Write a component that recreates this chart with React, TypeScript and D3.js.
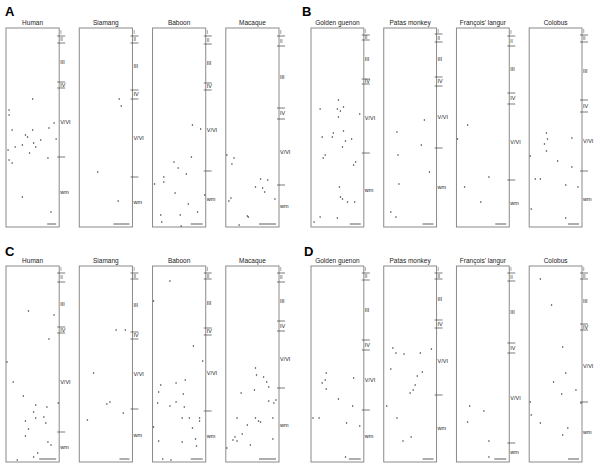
import React, { useEffect, useRef } from "react";
import * as d3 from "d3";

const W = 600;
const H = 469;

// species per row
const speciesLeft = ["Human", "Siamang", "Baboon", "Macaque"];
const speciesRight = ["Golden guenon", "Patas monkey", "François' langur", "Colobus"];
const layerNames = ["I", "II", "III", "IV", "V/VI", "wm"];

// layer boundaries (I/II, II/III, III/IV, IV/V, VI/wm), depth units from pial surface
const layersA = [[8, 15, 54, 60, 129], [8, 15, 62, 71, 149], [8, 16, 55, 62, 143], [8, 18, 80, 91, 157]];
const layersB = [[7, 12, 51, 56, 125], [6, 14, 49, 58, 120], [8, 18, 65, 76, 152], [7, 14, 72, 84, 143]];
const layersC = [[7, 16, 61, 67, 166], [7, 13, 66, 73, 143], [7, 13, 62, 69, 145], [7, 16, 55, 65, 122]];
const layersD = [[7, 14, 74, 84, 144], [7, 13, 54, 62, 129], [7, 15, 77, 87, 177], [7, 13, 58, 64, 136]];

// scale bar lengths (width units)
const barsA = [9, 16, 12, 17];
const barsB = [11, 11, 11, 11];
const barsC = [17, 10, 12, 17];
const barsD = [12, 11, 12, 11];

// labelled cells [x, depth]
const cellsA = [
  [[26, 71], [3, 82], [3, 87], [6, 102], [26, 102], [19, 107], [21, 109], [34, 112], [42, 100], [47, 95], [49, 111], [9, 119], [2, 122], [16, 117], [27, 115], [29, 119], [23, 125], [41, 130], [6, 135], [3, 132], [16, 169], [44, 184]],
  [[39, 71], [41, 78], [18, 144], [38, 173]],
  [[39, 97], [47, 101], [38, 129], [21, 134], [25, 140], [33, 146], [11, 149], [11, 154], [2, 156], [22, 165], [51, 167], [35, 176], [44, 184], [27, 187], [8, 187], [9, 194], [28, 198]],
  [[1, 127], [8, 130], [6, 136], [34, 151], [41, 152], [29, 159], [36, 160], [38, 164], [48, 171], [5, 170], [3, 173], [21, 188], [22, 189], [13, 197]],
];
const cellsB = [
  [[27, 72], [32, 79], [9, 81], [26, 81], [29, 83], [27, 89], [48, 86], [32, 103], [22, 105], [21, 109], [11, 109], [34, 113], [40, 111], [31, 119], [14, 127], [12, 130], [44, 134], [42, 137], [28, 159], [29, 169], [31, 171], [36, 174], [43, 174], [9, 189], [3, 194], [26, 190]],
  [[40, 92], [13, 104], [37, 117], [14, 127], [45, 144], [15, 156], [7, 184], [12, 189]],
  [[11, 97], [1, 111], [32, 149], [8, 159], [24, 174]],
  [[17, 105], [18, 111], [15, 116], [17, 123], [42, 110], [1, 128], [28, 133], [42, 139], [6, 151], [11, 151], [36, 157], [48, 159], [2, 181], [36, 190]],
];
const cellsC = [
  [[22, 45], [47, 49], [42, 73], [1, 96], [7, 116], [17, 130], [51, 137], [29, 139], [40, 141], [27, 146], [19, 155], [29, 152], [37, 151], [39, 157], [22, 163], [19, 170], [41, 176], [44, 179], [31, 187], [27, 191], [11, 194]],
  [[36, 64], [45, 64], [14, 107], [27, 138], [30, 136], [43, 147], [8, 154]],
  [[17, 15], [1, 35], [40, 80], [49, 95], [8, 119], [23, 117], [32, 114], [6, 126], [30, 128], [5, 137], [17, 140], [23, 136], [31, 141], [29, 152], [36, 152], [46, 152], [46, 155], [39, 162], [1, 161], [6, 175], [29, 176], [42, 173], [43, 180], [10, 193], [18, 194]],
  [[29, 102], [30, 109], [37, 111], [40, 116], [28, 124], [15, 127], [42, 121], [49, 134], [42, 135], [47, 137], [11, 152], [29, 152], [32, 155], [34, 156], [46, 152], [21, 159], [16, 168], [9, 171], [7, 174], [11, 175], [46, 173], [24, 179], [1, 182]],
];
const cellsD = [
  [[15, 107], [14, 114], [11, 117], [15, 123], [42, 112], [27, 133], [41, 140], [2, 152], [8, 152], [35, 157], [48, 160], [34, 191]],
  [[9, 82], [12, 87], [20, 88], [36, 87], [47, 83], [7, 103], [38, 106], [33, 110], [31, 119], [29, 124], [26, 127], [3, 140], [13, 152], [27, 171], [19, 175]],
  [[13, 140], [27, 145], [11, 156], [32, 175], [32, 191]],
  [[11, 13], [22, 39], [33, 81], [36, 107], [24, 116], [46, 124], [32, 128], [1, 136], [51, 137], [2, 149], [11, 157], [38, 162], [33, 169]],
];

const panels = [
  { letter: "A", species: speciesLeft, layers: layersA, bars: barsA, cells: cellsA, x0: 6, x1: 279, top: 28, bottom: 227, lx: 5, ly: 16 },
  { letter: "B", species: speciesRight, layers: layersB, bars: barsB, cells: cellsB, x0: 311, x1: 582, top: 28, bottom: 227, lx: 302, ly: 16 },
  { letter: "C", species: speciesLeft, layers: layersC, bars: barsC, cells: cellsC, x0: 6, x1: 279, top: 266, bottom: 462, lx: 5, ly: 256 },
  { letter: "D", species: speciesRight, layers: layersD, bars: barsD, cells: cellsD, x0: 311, x1: 582, top: 266, bottom: 462, lx: 304, ly: 256 },
];

function drawChart(node: SVGSVGElement) {
  const svg = d3.select(node);
  svg.selectAll("*").remove();
  svg.attr("width", W).attr("height", H);
  svg.append("rect").attr("width", W).attr("height", H).attr("fill", "white");

  panels.forEach((p) => {
    const g = svg.append("g");
    g.append("text")
      .attr("x", p.lx)
      .attr("y", p.ly)
      .attr("font-family", "Liberation Sans, Arial, sans-serif")
      .attr("font-weight", "bold")
      .attr("font-size", 13)
      .text(p.letter);

    const band = d3.scaleBand().domain(p.species).range([p.x0, p.x1]).paddingInner(0.274).paddingOuter(0);
    const depth = p.bottom - p.top;

    p.species.forEach((sp, i) => {
      const left = band(sp) as number;
      const bw = band.bandwidth();
      const right = left + bw;
      const x = d3.scaleLinear().domain([0, 52]).range([left, right]);
      const y = d3.scaleLinear().domain([0, depth]).range([p.top, p.bottom]);

      g.append("text")
        .attr("x", left + bw / 2)
        .attr("y", p.top - 3)
        .attr("text-anchor", "middle")
        .attr("font-family", "Liberation Sans, Arial, sans-serif")
        .attr("font-size", 6.5)
        .attr("fill", "#222")
        .text(sp);

      g.append("rect")
        .attr("x", left)
        .attr("y", p.top)
        .attr("width", bw)
        .attr("height", depth)
        .attr("fill", "none")
        .attr("stroke", "#8a8a8a")
        .attr("stroke-width", 1);

      const bounds = p.layers[i];
      g.selectAll(null)
        .data(bounds)
        .enter()
        .append("line")
        .attr("x1", right - 2)
        .attr("x2", right + 6)
        .attr("y1", (d) => y(d))
        .attr("y2", (d) => y(d))
        .attr("stroke", "#444")
        .attr("stroke-width", 0.7);

      const edges = [0, ...bounds, depth];
      g.selectAll(null)
        .data(layerNames)
        .enter()
        .append("text")
        .attr("x", right + 1)
        .attr("y", (d, k) => y((edges[k] + edges[k + 1]) / 2))
        .attr("dy", "0.35em")
        .attr("font-family", "Liberation Sans, Arial, sans-serif")
        .attr("font-size", (d, k) => (k < 2 ? 4.5 : 5.5))
        .attr("fill", "#222")
        .text((d) => d);

      g.append("line")
        .attr("x1", right - 3 - p.bars[i])
        .attr("x2", right - 3)
        .attr("y1", p.bottom - 3)
        .attr("y2", p.bottom - 3)
        .attr("stroke", "#333")
        .attr("stroke-width", 0.8);

      g.selectAll(null)
        .data(p.cells[i])
        .enter()
        .append("circle")
        .attr("cx", (d) => x(d[0]))
        .attr("cy", (d) => y(d[1]))
        .attr("r", 0.75)
        .attr("fill", "#333");
    });
  });
}

export default function App() {
  const ref = useRef<SVGSVGElement>(null);
  useEffect(() => {
    if (ref.current) drawChart(ref.current);
  }, []);
  return (
    <div style={{ position: "absolute", left: 0, top: 0 }}>
      <svg ref={ref} style={{ display: "block" }} />
    </div>
  );
}
